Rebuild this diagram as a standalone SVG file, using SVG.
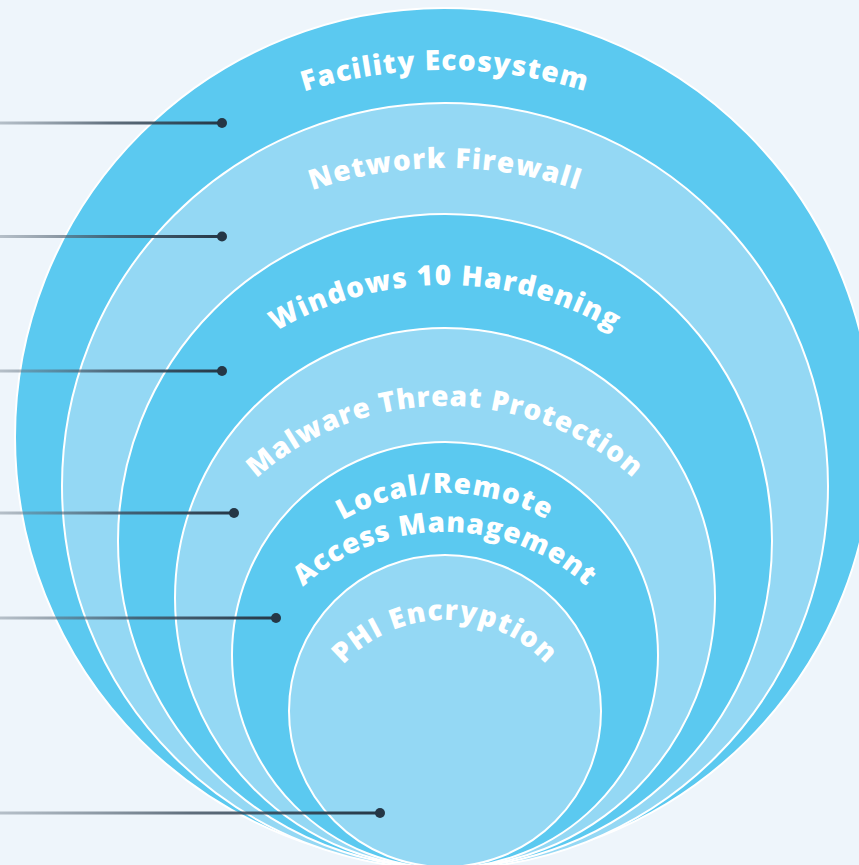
<svg xmlns="http://www.w3.org/2000/svg" width="859" height="865" viewBox="0 0 859 865">
<defs>
<style>
.dark{fill:#5bc9f0;stroke:#ffffff;stroke-width:2}
.light{fill:#94d8f4;stroke:#ffffff;stroke-width:2}
.lbl{font-family:"Open Sans","Noto Sans","Liberation Sans",sans-serif;font-weight:800;font-size:28px;fill:#ffffff;letter-spacing:1.2px}
.tight{letter-spacing:0.9px}
.dot{fill:#253746}
.ln{fill:url(#lg)}
</style>
<linearGradient id="lg" x1="0" y1="0" x2="1" y2="0">
<stop offset="0" stop-color="#6f7d8a" stop-opacity="0.45"/>
<stop offset="0.5" stop-color="#3b4c5c" stop-opacity="0.8"/>
<stop offset="1" stop-color="#253746" stop-opacity="1"/>
</linearGradient>
<path id="p1" d="M -24 539 A 469 469 0 0 1 914 539"/>
<path id="p2" d="M 38 575 A 407 407 0 0 1 852 575"/>
<path id="p3" d="M 114 616 A 331 331 0 0 1 776 616"/>
<path id="p4" d="M 164 687 A 281 281 0 0 1 726 687"/>
<path id="p5a" d="M 239 699 A 206 206 0 0 1 651 699"/>
<path id="p5b" d="M 234 743 A 211 211 0 0 1 656 743"/>
<path id="p6" d="M 307 758 A 138 138 0 0 1 583 758"/>
</defs>
<rect x="0" y="0" width="859" height="865" fill="#eef5fb"/>
<g id="ring-facility-ecosystem">
<circle class="dark" cx="444" cy="437" r="429"/>
<text class="lbl" text-anchor="middle"><textPath href="#p1" startOffset="50%">Facility Ecosystem</textPath></text>
</g>
<g id="ring-network-firewall">
<circle class="light" cx="445" cy="486" r="383"/>
<text class="lbl" text-anchor="middle"><textPath href="#p2" startOffset="50%">Network Firewall</textPath></text>
</g>
<g id="ring-windows-hardening">
<circle class="dark" cx="445" cy="541" r="327"/>
<text class="lbl" text-anchor="middle"><textPath href="#p3" startOffset="50%">Windows 10 Hardening</textPath></text>
</g>
<g id="ring-malware-protection">
<circle class="light" cx="445" cy="598" r="270"/>
<text class="lbl tight" text-anchor="middle"><textPath href="#p4" startOffset="50%">Malware Threat Protection</textPath></text>
</g>
<g id="ring-access-management">
<circle class="dark" cx="445" cy="655" r="213"/>
<text class="lbl" text-anchor="middle"><textPath href="#p5a" startOffset="50%">Local/Remote</textPath></text>
<text class="lbl tight" text-anchor="middle"><textPath href="#p5b" startOffset="50%">Access Management</textPath></text>
</g>
<g id="ring-phi-encryption">
<circle class="light" cx="445" cy="711" r="156"/>
<text class="lbl" text-anchor="middle"><textPath href="#p6" startOffset="50%">PHI Encryption</textPath></text>
</g>
<g id="connectors">
<rect class="ln" x="0" y="121.5" width="222" height="3"/>
<circle class="dot" cx="222" cy="123" r="5"/>
<rect class="ln" x="0" y="235" width="222" height="3"/>
<circle class="dot" cx="222" cy="236.5" r="5"/>
<rect class="ln" x="0" y="369.5" width="222" height="3"/>
<circle class="dot" cx="222" cy="371" r="5"/>
<rect class="ln" x="0" y="511.5" width="234" height="3"/>
<circle class="dot" cx="234" cy="513" r="5"/>
<rect class="ln" x="0" y="616.5" width="276" height="3"/>
<circle class="dot" cx="276" cy="618" r="5"/>
<rect class="ln" x="0" y="811.5" width="380" height="3"/>
<circle class="dot" cx="380" cy="813" r="5"/>
</g>
</svg>
